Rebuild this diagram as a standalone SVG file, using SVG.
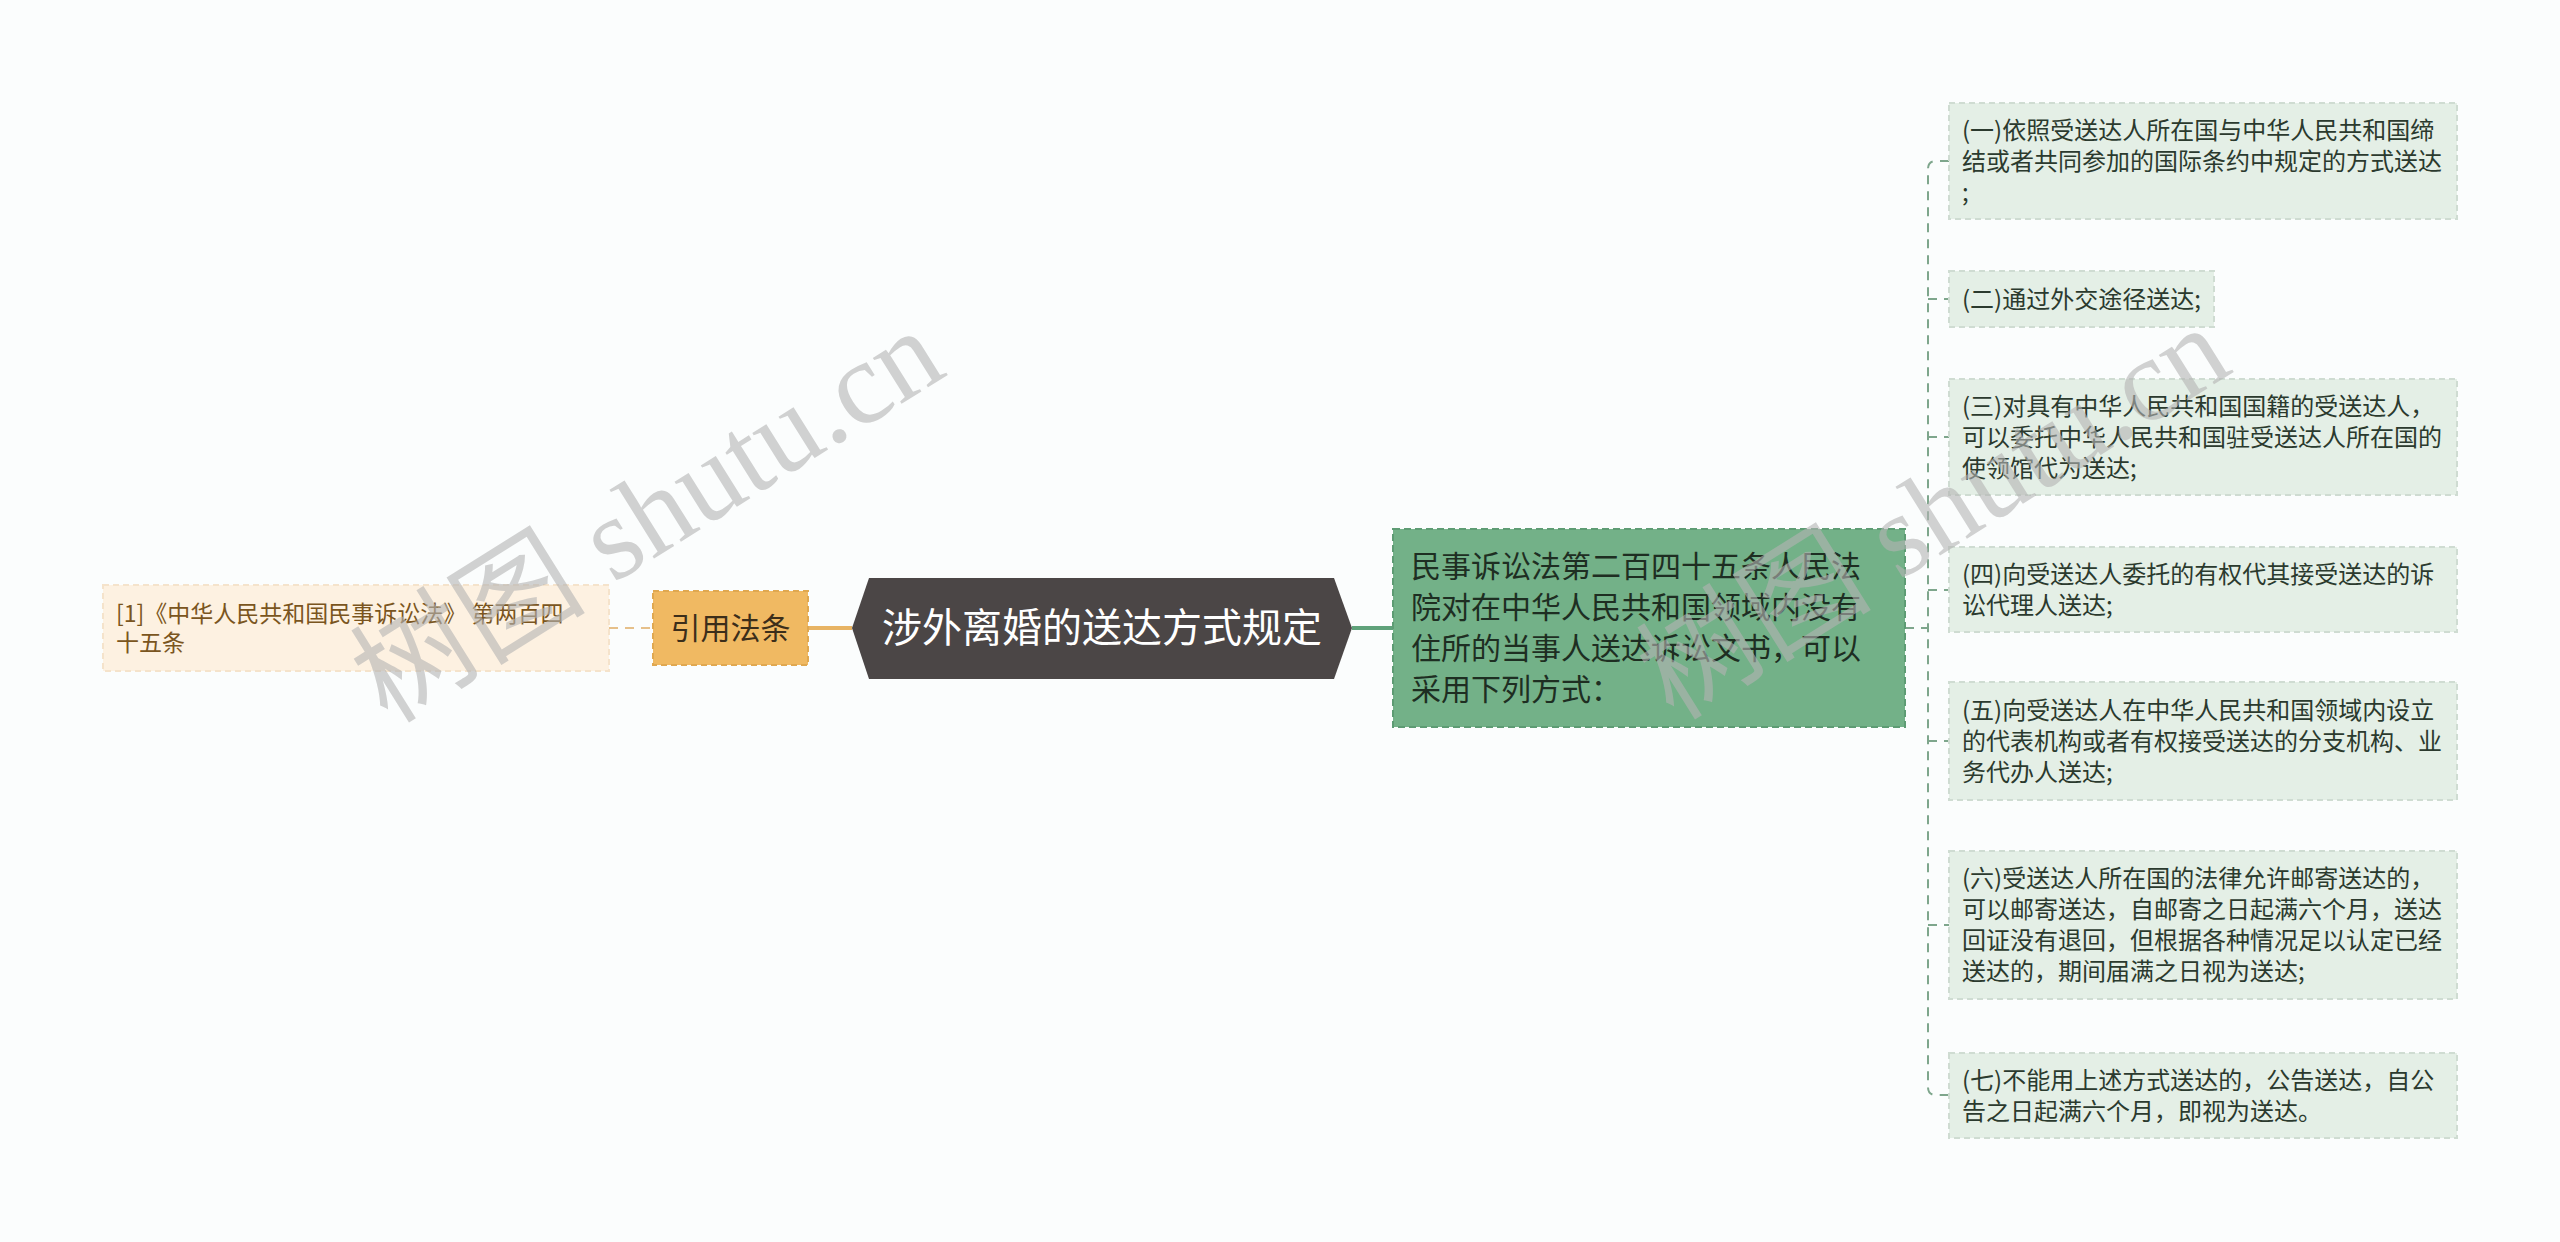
<svg xmlns="http://www.w3.org/2000/svg" width="2560" height="1242" viewBox="0 0 2560 1242">
<style>
text{font-family:"Noto Sans CJK SC","Noto Sans",sans-serif}
.leaf{fill:#e4efe6;stroke:#cfdcd2;stroke-width:2;stroke-dasharray:6 4}
.lt{font-size:24px;fill:#2b3a2e}
.conn{fill:none;stroke:#7ea68c;stroke-width:2;stroke-dasharray:9 7}
.wm{font-family:"Liberation Serif","Noto Sans CJK SC",serif;font-size:118px;fill:#b4b4b4;opacity:0.6}
</style>
<rect x="0" y="0" width="2560" height="1242" fill="#fbfdfd"/>
<g id="connectors">
<line x1="609" y1="628" x2="653" y2="628" stroke="#e6c08a" stroke-width="2" stroke-dasharray="9 7"/>
<line x1="808" y1="628" x2="852" y2="628" stroke="#e8b464" stroke-width="4"/>
<line x1="1352" y1="628" x2="1393" y2="628" stroke="#5fa27a" stroke-width="4"/>
<line x1="1905" y1="628" x2="1928" y2="628" class="conn"/>
<path class="conn" d="M1949 161 H1936 Q1928 161 1928 169 V1087 Q1928 1095 1936 1095 H1949"/>
<line x1="1928" y1="299" x2="1949" y2="299" class="conn"/>
<line x1="1928" y1="437" x2="1949" y2="437" class="conn"/>
<line x1="1928" y1="590" x2="1949" y2="590" class="conn"/>
<line x1="1928" y1="741" x2="1949" y2="741" class="conn"/>
<line x1="1928" y1="925" x2="1949" y2="925" class="conn"/>
</g>
<g id="ref">
<rect x="103" y="585" width="506" height="86" fill="#fdf1e1" stroke="#f5e3cb" stroke-width="2" stroke-dasharray="6 4"/>
<text font-size="23" fill="#7a5520"><tspan x="116" y="622">[1]《中华人民共和国民事诉讼法》 第两百四</tspan><tspan x="116" y="651">十五条</tspan></text>
</g>
<g id="cite">
<rect x="653" y="591" width="155" height="74" fill="#f0b962" stroke="#e0a850" stroke-width="2" stroke-dasharray="6 4"/>
<text x="730.5" y="639" font-size="30" fill="#3c2e1a" text-anchor="middle">引用法条</text>
</g>
<g id="root">
<polygon points="852,628 869,578 1334,578 1352,628 1334,679 869,679" fill="#4b4646"/>
<text x="1102" y="642" font-size="40" fill="#ffffff" text-anchor="middle">涉外离婚的送达方式规定</text>
</g>
<g id="main">
<rect x="1393" y="529" width="512" height="198" fill="#73b188" stroke="#5e9c74" stroke-width="2" stroke-dasharray="7 4"/>
<text font-size="30" fill="#1e2e22">
<tspan x="1411" y="577">民事诉讼法第二百四十五条人民法</tspan>
<tspan x="1411" y="618">院对在中华人民共和国领域内没有</tspan>
<tspan x="1411" y="659">住所的当事人送达诉讼文书，可以</tspan>
<tspan x="1411" y="700">采用下列方式：</tspan>
</text>
</g>
<g id="item1">
<rect class="leaf" x="1949" y="103" width="508" height="116"/>
<text class="lt"><tspan x="1962" y="139">(一)依照受送达人所在国与中华人民共和国缔</tspan><tspan x="1962" y="170">结或者共同参加的国际条约中规定的方式送达</tspan><tspan x="1962" y="201">;</tspan></text>
</g>
<g id="item2">
<rect class="leaf" x="1949" y="271" width="265" height="56"/>
<text class="lt" x="1962" y="307.5">(二)通过外交途径送达;</text>
</g>
<g id="item3">
<rect class="leaf" x="1949" y="379" width="508" height="116"/>
<text class="lt"><tspan x="1962" y="414.5">(三)对具有中华人民共和国国籍的受送达人，</tspan><tspan x="1962" y="445.5">可以委托中华人民共和国驻受送达人所在国的</tspan><tspan x="1962" y="476.5">使领馆代为送达;</tspan></text>
</g>
<g id="item4">
<rect class="leaf" x="1949" y="547" width="508" height="85"/>
<text class="lt"><tspan x="1962" y="582.5">(四)向受送达人委托的有权代其接受送达的诉</tspan><tspan x="1962" y="613.5">讼代理人送达;</tspan></text>
</g>
<g id="item5">
<rect class="leaf" x="1949" y="682" width="508" height="118"/>
<text class="lt"><tspan x="1962" y="718.5">(五)向受送达人在中华人民共和国领域内设立</tspan><tspan x="1962" y="749.5">的代表机构或者有权接受送达的分支机构、业</tspan><tspan x="1962" y="780.5">务代办人送达;</tspan></text>
</g>
<g id="item6">
<rect class="leaf" x="1949" y="851" width="508" height="148"/>
<text class="lt"><tspan x="1962" y="887">(六)受送达人所在国的法律允许邮寄送达的，</tspan><tspan x="1962" y="918">可以邮寄送达，自邮寄之日起满六个月，送达</tspan><tspan x="1962" y="949">回证没有退回，但根据各种情况足以认定已经</tspan><tspan x="1962" y="980">送达的，期间届满之日视为送达;</tspan></text>
</g>
<g id="item7">
<rect class="leaf" x="1949" y="1053" width="508" height="85"/>
<text class="lt"><tspan x="1962" y="1088.5">(七)不能用上述方式送达的，公告送达，自公</tspan><tspan x="1962" y="1119.5">告之日起满六个月，即视为送达。</tspan></text>
</g>
<g id="watermarks">
<text class="wm" x="649" y="555" text-anchor="middle" transform="rotate(-32 649 518)">树图 shutu.cn</text>
<text class="wm" x="1935" y="552" text-anchor="middle" transform="rotate(-32 1935 515)">树图 shutu.cn</text>
</g>
</svg>
